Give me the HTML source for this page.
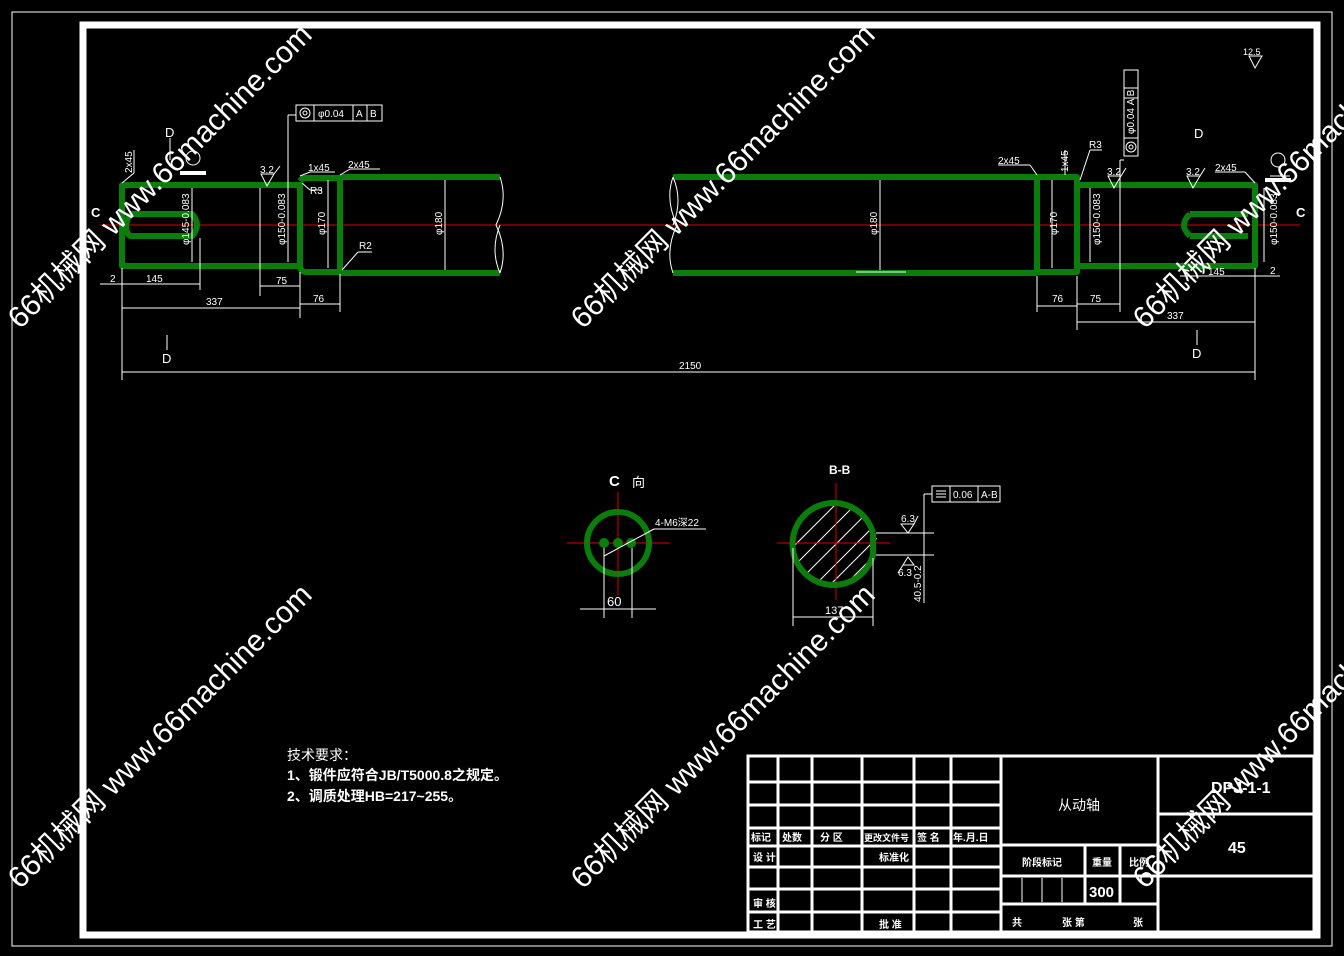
<!DOCTYPE html>
<html><head><meta charset="utf-8"><style>
html,body{margin:0;padding:0;background:#000;}
svg{display:block;}
text{font-family:"Liberation Sans","Noto Sans CJK SC",sans-serif;fill:#fff;}
.w{stroke:#fff;fill:none;stroke-width:1;}
.g{stroke:#0a7d0a;fill:none;stroke-width:6;stroke-linejoin:round;}
.r{stroke:#e00000;stroke-width:1;fill:none;}
.t{stroke:#fff;fill:none;stroke-width:3;}
.wm{font-size:30px;fill:#d8d8d8;}
</style></head><body>
<svg width="1344" height="956" viewBox="0 0 1344 956" xmlns="http://www.w3.org/2000/svg">
<rect x="0" y="0" width="1344" height="956" fill="#000"/>
<rect x="12" y="12" width="1320" height="934" class="w" stroke-width="2"/>
<rect x="83" y="25" width="1234" height="910" fill="none" stroke="#fff" stroke-width="7"/>

<!-- centerline -->
<line x1="100" y1="225" x2="1300" y2="225" class="r"/>

<!-- shaft left -->
<path class="g" d="M122 185 H300 V266 H122 Z"/>
<path class="g" d="M300 181 Q302 178 306 178 H340 V272 H306 Q302 272 300 268"/>
<path class="g" d="M340 177 H500 M340 273 H500"/>
<path class="g" d="M130 214 H192 Q202 225 192 236 H130 Q122 229 130 214" stroke-width="5"/>
<path class="w" d="M500 177 Q508 200 496 225 Q508 250 500 273 M500 225 Q490 250 500 273"/>
<!-- shaft right -->
<path class="g" d="M673 177 H1037 M673 273 H1037"/>
<path class="g" d="M1037 177 H1077 V272 H1037 Z"/>
<path class="g" d="M1077 185 H1255 V266 H1077 Z"/>
<path class="g" d="M1190 214 H1248 M1190 236 H1248 M1190 214 Q1178 225 1190 236" stroke-width="5"/>
<path class="w" d="M673 177 Q665 200 677 225 Q665 250 673 273 M673 177 Q683 200 673 225"/>

<!-- dimension lines -->
<g class="w">
<line x1="122" y1="268" x2="122" y2="380"/><line x1="1255" y1="268" x2="1255" y2="380"/>
<line x1="122" y1="372" x2="1255" y2="372"/>
<line x1="100" y1="284" x2="200" y2="284"/><line x1="200" y1="238" x2="200" y2="290"/>
<line x1="122" y1="308" x2="300" y2="308"/><line x1="300" y1="272" x2="300" y2="318"/>
<line x1="260" y1="286" x2="300" y2="286"/><line x1="260" y1="188" x2="260" y2="296"/>
<line x1="300" y1="304" x2="340" y2="304"/><line x1="340" y1="274" x2="340" y2="312"/>
<line x1="192" y1="188" x2="192" y2="262"/><line x1="288" y1="115" x2="288" y2="262"/><line x1="288" y1="115" x2="296" y2="115"/>
<line x1="328" y1="180" x2="328" y2="268"/><line x1="445" y1="180" x2="445" y2="270"/>
<line x1="880" y1="180" x2="880" y2="270"/><line x1="856" y1="272" x2="906" y2="272"/>
<line x1="1052" y1="180" x2="1052" y2="268"/><line x1="1090" y1="188" x2="1090" y2="262"/>
<line x1="1120" y1="188" x2="1120" y2="312"/><line x1="1077" y1="276" x2="1077" y2="330"/>
<line x1="1037" y1="276" x2="1037" y2="312"/>
<line x1="1037" y1="306" x2="1077" y2="306"/><line x1="1077" y1="304" x2="1120" y2="304"/>
<line x1="1077" y1="322" x2="1255" y2="322"/><line x1="1180" y1="276" x2="1280" y2="276"/>
<line x1="1120" y1="238" x2="1120" y2="160"/><line x1="1120" y1="160" x2="1124" y2="160"/>
<line x1="1264" y1="188" x2="1264" y2="262"/>
<line x1="167" y1="335" x2="167" y2="350"/><line x1="1197" y1="330" x2="1197" y2="345"/>
<line x1="170" y1="138" x2="170" y2="160"/>
<line x1="122" y1="183" x2="134" y2="173"/><line x1="134" y1="150" x2="134" y2="173"/>
<line x1="300" y1="176" x2="310" y2="172"/><line x1="310" y1="172" x2="335" y2="172"/>
<line x1="340" y1="175" x2="350" y2="169"/><line x1="350" y1="169" x2="380" y2="169"/>
<line x1="302" y1="183" x2="310" y2="190"/><line x1="310" y1="190" x2="322" y2="190"/>
<line x1="342" y1="270" x2="358" y2="252"/><line x1="358" y1="252" x2="372" y2="252"/>
<line x1="1030" y1="165" x2="1037" y2="175"/><line x1="998" y1="165" x2="1030" y2="165"/>
<line x1="1065" y1="150" x2="1065" y2="175"/>
<line x1="1080" y1="180" x2="1090" y2="150"/><line x1="1090" y1="150" x2="1102" y2="150"/>
<line x1="1255" y1="183" x2="1245" y2="172"/><line x1="1215" y1="172" x2="1245" y2="172"/>
<line x1="1270" y1="176" x2="1290" y2="176"/>
</g>
<!-- surface symbols -->
<g class="w">
<path d="M261 174 L274 174 L267 186 Z M274 174 L280 166"/>
<path d="M1108 176 L1121 176 L1114 188 Z M1121 176 L1126 168"/>
<path d="M1187 176 L1200 176 L1193 188 Z M1200 176 L1205 168"/>
<path d="M1249 56 L1262 56 L1255 68 Z"/>
</g>
<rect x="180" y="171" width="26" height="4" fill="#fff"/>
<rect x="1265" y="178" width="26" height="4" fill="#fff"/>
<circle cx="193" cy="158" r="7" class="w"/><circle cx="1278" cy="160" r="7" class="w"/>
<!-- tolerance frames -->
<g class="w">
<rect x="296" y="105" width="86" height="16"/><line x1="314" y1="105" x2="314" y2="121"/><line x1="353" y1="105" x2="353" y2="121"/><line x1="367" y1="105" x2="367" y2="121"/>
<circle cx="305" cy="113" r="5"/><circle cx="305" cy="113" r="2"/>
<rect x="1124" y="70" width="14" height="86"/><line x1="1124" y1="88" x2="1138" y2="88"/><line x1="1124" y1="98" x2="1138" y2="98"/><line x1="1124" y1="138" x2="1138" y2="138"/>
<circle cx="1131" cy="147" r="5"/><circle cx="1131" cy="147" r="2"/>
<rect x="932" y="486" width="68" height="16"/><line x1="950" y1="486" x2="950" y2="502"/><line x1="978" y1="486" x2="978" y2="502"/>
<line x1="936" y1="491" x2="946" y2="491"/><line x1="936" y1="494" x2="946" y2="494"/><line x1="936" y1="497" x2="946" y2="497"/>
</g>
<g font-size="10">
<text x="318" y="117">φ0.04</text><text x="356" y="117">A</text><text x="370" y="117">B</text>
<text x="953" y="498">0.06</text><text x="981" y="498">A-B</text>
<text transform="translate(1134,134) rotate(-90)">φ0.04 A B</text>
<text x="308" y="171">1x45</text><text x="348" y="168">2x45</text><text x="310" y="194">R3</text><text x="359" y="249">R2</text>
<text x="998" y="164">2x45</text><text x="1089" y="148">R3</text><text x="1215" y="171">2x45</text>
<text x="260" y="173">3.2</text><text x="1107" y="175">3.2</text><text x="1186" y="175">3.2</text><text x="1243" y="55" font-size="9">12.5</text>
<text x="110" y="282">2</text><text x="146" y="282">145</text><text x="206" y="305">337</text><text x="276" y="284">75</text><text x="313" y="302">76</text>
<text x="679" y="369">2150</text>
<text x="1052" y="302">76</text><text x="1090" y="302">75</text><text x="1167" y="319">337</text><text x="1208" y="275">145</text><text x="1270" y="274">2</text>
<text transform="translate(132,173) rotate(-90)">2x45</text>
<text transform="translate(1068,172) rotate(-90)">1x45</text>
<text transform="translate(189,245) rotate(-90)">φ145-0.083</text>
<text transform="translate(285,245) rotate(-90)">φ150-0.083</text>
<text transform="translate(325,235) rotate(-90)">φ170</text>
<text transform="translate(442,235) rotate(-90)">φ180</text>
<text transform="translate(877,235) rotate(-90)">φ180</text>
<text transform="translate(1057,235) rotate(-90)">φ170</text>
<text transform="translate(1100,245) rotate(-90)">φ150-0.083</text>
<text transform="translate(1277,245) rotate(-90)">φ150-0.083</text>
</g>
<g font-size="13">
<text x="165" y="137">D</text><text x="162" y="363">D</text><text x="1194" y="138">D</text><text x="1192" y="358">D</text>
<text x="91" y="217" font-weight="bold">C</text><text x="1296" y="217" font-weight="bold">C</text>
</g>

<!-- C view -->
<g>
<line x1="567" y1="543" x2="670" y2="543" class="r"/><line x1="618" y1="492" x2="618" y2="595" class="r"/>
<circle cx="618" cy="543" r="31" class="g"/>
<circle cx="604" cy="543" r="5" fill="#0a7d0a"/><circle cx="618" cy="543" r="5" fill="#0a7d0a"/><circle cx="631" cy="543" r="5" fill="#0a7d0a"/>
<g class="w"><line x1="604" y1="548" x2="604" y2="618"/><line x1="632" y1="548" x2="632" y2="618"/><line x1="580" y1="609" x2="656" y2="609"/>
<line x1="604" y1="556" x2="654" y2="529"/><line x1="654" y1="529" x2="706" y2="529"/></g>
<text x="609" y="486" font-size="15" font-weight="bold">C</text><text x="632" y="487" font-size="13">向</text>
<text x="607" y="606" font-size="13">60</text><text x="655" y="526" font-size="10">4-M6深22</text>
</g>
<!-- B-B -->
<g>
<defs><clipPath id="cp"><circle cx="836" cy="543" r="41"/></clipPath></defs>
<g clip-path="url(#cp)" class="w">
<line x1="780" y1="560" x2="860" y2="480"/><line x1="780" y1="580" x2="870" y2="490"/><line x1="780" y1="600" x2="880" y2="500"/>
<line x1="790" y1="610" x2="890" y2="510"/><line x1="805" y1="610" x2="900" y2="515"/><line x1="820" y1="610" x2="900" y2="530"/>
<line x1="780" y1="540" x2="850" y2="470"/><line x1="780" y1="520" x2="840" y2="460"/><line x1="840" y1="610" x2="900" y2="550"/>
</g>
<line x1="777" y1="543" x2="890" y2="543" class="r"/><line x1="836" y1="483" x2="836" y2="600" class="r"/>
<path class="g" d="M873 533 A41 41 0 1 0 873 555 L873 533" stroke-width="5"/>
<g class="w"><line x1="793" y1="548" x2="793" y2="626"/><line x1="873" y1="558" x2="873" y2="626"/><line x1="793" y1="617" x2="873" y2="617"/>
<line x1="876" y1="533" x2="934" y2="533"/><line x1="876" y1="555" x2="934" y2="555"/><line x1="924" y1="494" x2="924" y2="603"/><line x1="924" y1="494" x2="932" y2="494"/>
<path d="M901 524 L914 524 L908 533 Z M914 524 L918 516"/><path d="M903 565 L914 565 L908 557 Z M903 565 L898 573"/></g>
<text x="829" y="474" font-size="12" font-weight="bold">B-B</text>
<text x="825" y="614" font-size="11">137</text><text x="901" y="522" font-size="10">6.3</text><text x="898" y="576" font-size="10">6.3</text>
<text transform="translate(921,602) rotate(-90)" font-size="10">40.5-0.2</text>
</g>

<!-- tech requirements -->
<g font-size="14">
<text x="287" y="760">技术要求：</text>
<text x="287" y="780" font-weight="bold">1、锻件应符合JB/T5000.8之规定。</text>
<text x="287" y="801" font-weight="bold">2、调质处理HB=217~255。</text>
</g>

<!-- title block -->
<g class="t">
<rect x="748" y="756" width="566" height="176"/>
<line x1="1001" y1="756" x2="1001" y2="932"/><line x1="1158" y1="756" x2="1158" y2="932"/>
<line x1="778" y1="756" x2="778" y2="932"/><line x1="812" y1="756" x2="812" y2="932"/><line x1="862" y1="756" x2="862" y2="932"/>
<line x1="914" y1="756" x2="914" y2="932"/><line x1="951" y1="756" x2="951" y2="932"/>
<line x1="748" y1="782" x2="1001" y2="782"/><line x1="748" y1="805" x2="1001" y2="805"/><line x1="748" y1="828" x2="1001" y2="828"/>
<line x1="748" y1="846" x2="1001" y2="846"/><line x1="748" y1="867" x2="1001" y2="867"/><line x1="748" y1="889" x2="1001" y2="889"/><line x1="748" y1="912" x2="1001" y2="912"/>
<line x1="1001" y1="845" x2="1158" y2="845"/><line x1="1001" y1="876" x2="1158" y2="876"/><line x1="1001" y1="904" x2="1158" y2="904"/>
<line x1="1085" y1="845" x2="1085" y2="904"/><line x1="1120" y1="845" x2="1120" y2="904"/>
<line x1="1158" y1="814" x2="1314" y2="814"/><line x1="1158" y1="876" x2="1314" y2="876"/>
</g>
<g class="w" stroke-width="1.5"><line x1="1022" y1="878" x2="1022" y2="902"/><line x1="1042" y1="878" x2="1042" y2="902"/><line x1="1062" y1="878" x2="1062" y2="902"/></g>
<g font-size="10" font-weight="bold">
<text x="751" y="841">标记</text><text x="782" y="841">处数</text><text x="820" y="841">分 区</text><text x="864" y="841" font-size="9">更改文件号</text><text x="917" y="841">签 名</text><text x="953" y="841">年.月.日</text>
<text x="753" y="861">设 计</text><text x="879" y="861">标准化</text><text x="753" y="907">审 核</text><text x="753" y="928">工 艺</text><text x="879" y="928">批 准</text>
<text x="1022" y="866">阶段标记</text><text x="1092" y="866">重量</text><text x="1129" y="866">比例</text>
<text x="1012" y="926">共</text><text x="1062" y="926">张 第</text><text x="1133" y="926">张</text>
</g>
<text x="1058" y="810" font-size="14">从动轴</text>
<text x="1089" y="897" font-size="15" font-weight="bold">300</text>
<text x="1211" y="793" font-size="16" font-weight="bold">DPJ-1-1</text>
<text x="1228" y="853" font-size="16" font-weight="bold">45</text>

<!-- watermarks -->
<g class="wm">
<text transform="translate(20,330) rotate(-45)">66机械网 www.66machine.com</text>
<text transform="translate(583,330) rotate(-45)">66机械网 www.66machine.com</text>
<text transform="translate(1145,330) rotate(-45)">66机械网 www.66machine.com</text>
<text transform="translate(20,890) rotate(-45)">66机械网 www.66machine.com</text>
<text transform="translate(583,890) rotate(-45)">66机械网 www.66machine.com</text>
<text transform="translate(1145,890) rotate(-45)">66机械网 www.66machine.com</text>
</g>
</svg>
</body></html>
